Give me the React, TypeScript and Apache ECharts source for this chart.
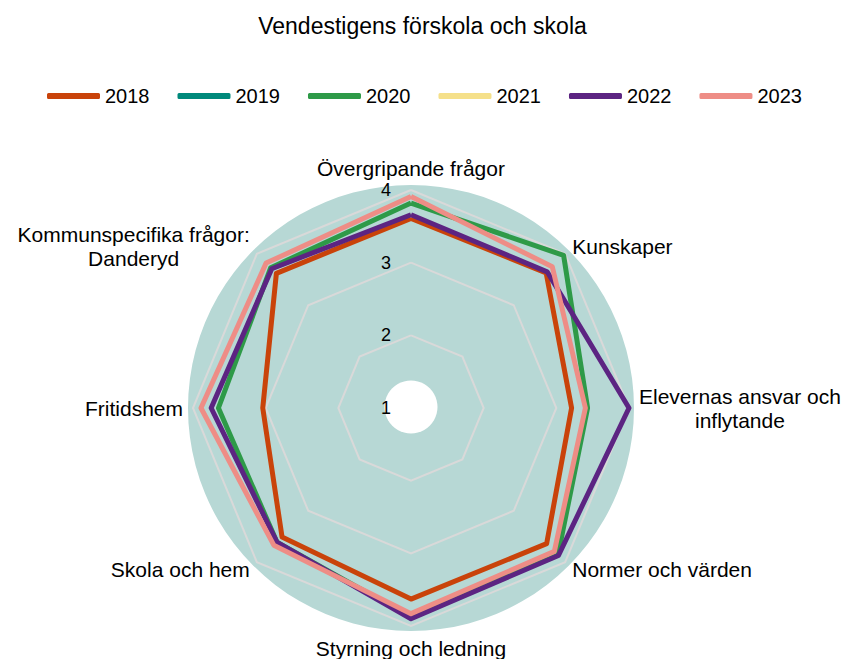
import React, { useEffect, useRef } from 'react';
import * as echarts from 'echarts';

const TITLE = 'Vendestigens förskola och skola';
// clockwise from top
const indicatorNames = [
  'Övergripande frågor',
  'Kunskaper',
  'Elevernas ansvar och\ninflytande',
  'Normer och värden',
  'Styrning och ledning',
  'Skola och hem',
  'Fritidshem',
  'Kommunspecifika frågor:\nDanderyd',
];
const years = ['2018', '2019', '2020', '2021', '2022', '2023'];
const colors = ['#C9430A', '#00897B', '#2E9A48', '#F5E08A', '#5C2482', '#EE8D86'];
const v2018 = [3.61, 3.63, 3.21, 3.64, 3.63, 3.51, 3.04, 3.62];
const v2019: number[] = [];
const v2020 = [3.82, 3.97, 3.43, 3.86, 3.88, 3.61, 3.65, 3.73];
const v2021: number[] = [];
const v2022 = [3.66, 3.65, 4.0, 3.87, 3.9, 3.61, 3.75, 3.71];
const v2023 = [3.91, 3.75, 3.4, 3.79, 3.83, 3.67, 3.89, 3.82];
const seriesValues = [v2018, v2019, v2020, v2021, v2022, v2023];
const axisMin = 1;
const axisMax = 4;

const FONT = '"Liberation Sans", Arial, sans-serif';
const CX = 411;
const CY = 408;
const R = 218;

// ECharts places indicators counter-clockwise; reorder to get clockwise layout
const order = [0, 7, 6, 5, 4, 3, 2, 1];
const reorder = <T,>(arr: T[]) => order.map((i) => arr[i]);

export default function App() {
  const ref = useRef<HTMLDivElement>(null);
  useEffect(() => {
    if (!ref.current) return;
    const chart = echarts.init(ref.current, undefined, { renderer: 'svg' });
    const indicators = reorder(indicatorNames).map((name, idx) => {
      const ind: any = { name, min: axisMin, max: axisMax };
      if (idx === 0) {
        ind.axisLabel = {
          show: true,
          fontSize: 18,
          color: '#000',
          fontFamily: FONT,
          margin: 20,
        };
      }
      return ind;
    });
    chart.setOption({
      animation: false,
      textStyle: { fontFamily: FONT },
      title: {
        text: TITLE,
        left: 'center',
        top: 9,
        textStyle: { fontSize: 23, fontWeight: 'normal', color: '#000', fontFamily: FONT },
      },
      legend: {
        data: years,
        icon: 'roundRect',
        itemWidth: 53,
        itemHeight: 6,
        itemGap: 28,
        left: 42,
        top: 81,
        selectedMode: false,
        textStyle: { fontSize: 20, color: '#000', fontFamily: FONT },
      },
      graphic: [
        { type: 'circle', z: 0, silent: true, shape: { cx: CX, cy: CY, r: 223 }, style: { fill: '#B7D8D5' } },
        { type: 'circle', z: 0, silent: true, shape: { cx: CX, cy: CY - 1, r: 26.5 }, style: { fill: '#FFFFFF' } },
      ],
      radar: {
        z: 2,
        center: [CX, CY],
        radius: R,
        startAngle: 90,
        splitNumber: 3,
        shape: 'polygon',
        axisNameGap: 10,
        indicator: indicators,
        axisName: {
          color: '#000',
          fontSize: 21,
          fontFamily: FONT,
          lineHeight: 24,
          formatter: (name: string) =>
            name.indexOf('\n') >= 0
              ? name
                  .split('\n')
                  .map((l) => `{c|${l}}`)
                  .join('\n')
              : name,
          rich: {
            c: { align: 'center', fontSize: 21, color: '#000', fontFamily: FONT, lineHeight: 24 },
          },
        },
        axisLine: { show: false },
        axisTick: { show: false },
        axisLabel: { show: false },
        splitLine: { lineStyle: { color: '#D9D9D9', width: 2 } },
        splitArea: { show: false },
      },
      series: years.map((y, i) => {
        const vals = seriesValues[i];
        const has = vals.length > 0;
        return {
          type: 'radar',
          name: y,
          z: 3,
          symbol: 'none',
          silent: true,
          itemStyle: { color: colors[i] },
          lineStyle: { color: colors[i], width: has ? 5 : 0 },
          emphasis: { disabled: true },
          data: [
            {
              name: y,
              value: has ? reorder(vals) : indicatorNames.map(() => '-'),
            },
          ],
        };
      }),
    });
    return () => chart.dispose();
  }, []);
  return (
    <div
      ref={ref}
      style={{ position: 'absolute', left: 0, top: 0, width: 845, height: 659 }}
    />
  );
}
